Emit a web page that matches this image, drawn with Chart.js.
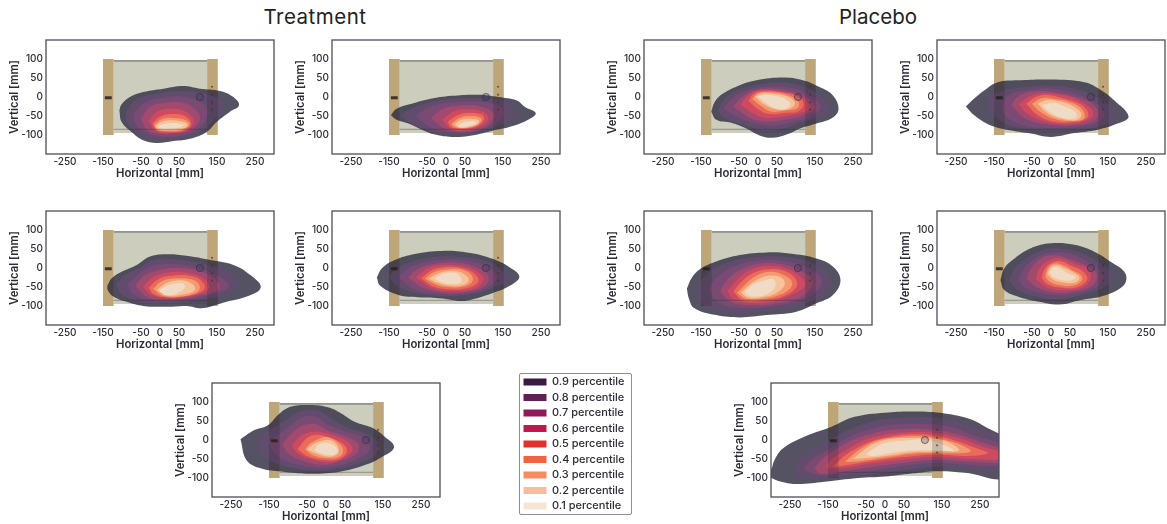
<!DOCTYPE html>
<html>
<head>
<meta charset="utf-8">
<script src="https://cdn.jsdelivr.net/npm/chart.js@4"></script>
<style>
    body { margin: 0; background: #fff; overflow: hidden; width: 1167px; height: 524px; position: relative; font-family: Inter, sans-serif; }
    canvas { position: absolute; }
    .group-title { position: absolute; top: 4px; font-size: 20.5px; color: #222; transform: translateX(-50%); }
    #legendBox { position: absolute; left: 519px; top: 373px; width: 113px; height: 142px; border: 1px solid #8a8e9c; border-radius: 2px; box-sizing: border-box; }
</style>
</head>
<body>
<div class="group-title" style="left:315px;letter-spacing:.5px">Treatment</div>
<div class="group-title" style="left:878px">Placebo</div>
<div id="legendBox"></div>
<script>
const xTicks = [-250, -150, -50, 0, 50, 150, 250];
const yTicks = [100, 50, 0, -50, -100];
const legendLabels = ['0.9 percentile', '0.8 percentile', '0.7 percentile', '0.6 percentile', '0.5 percentile', '0.4 percentile', '0.3 percentile', '0.2 percentile', '0.1 percentile'];
const legendColors = ['#3a1a42', '#611f53', '#8e1a5a', '#c0174f', '#e3312f', '#f0653f', '#f68d62', '#f6bd9c', '#f6e5d3'];
// what the bands look like once blended over the photo, outer to inner
const bandColors = ['rgba(62,58,78,0.88)', 'rgba(100,76,112,0.92)', 'rgba(124,74,116,0.95)', '#a24a6e', '#cf4a60', '#ea6c58', '#f49a70', '#f5c49c', '#f0dcc6'];

// photo backdrop, in mm
const leftPost = [[-150, -100], [-122, -100], [-122, 100], [-150, 100]];
const rightPost = [[124, -100], [152, -100], [152, 100], [124, 100]];
const glass = [[-122, -95], [124, -95], [124, 95], [-122, 95]];
const glassTop = [[-122, 95], [124, 95]];
const glassBottom = [[-122, -85], [124, -85]];
const strap = [[-145, -2], [-127, -2]];
const ring = [[105, 0]];
const screws = [[137, 27], [137, 6], [137, -14], [137, -33]];

// contours in mm, outermost (0.9) first
const treatment1 = [
    [[-107,-35],[-101,-19],[-79,0],[-44,13],[9,22],[61,29],[105,22],[158,16],[193,0],[208,-22],[184,-39],[149,-66],[123,-92],[79,-110],[35,-116],[-9,-121],[-44,-114],[-75,-92],[-101,-66]],
    [[-90,-40],[-60,-5],[0,10],[60,15],[120,8],[165,-15],[150,-50],[110,-88],[60,-105],[0,-112],[-50,-100],[-85,-70]],
    [[-70,-45],[-40,-15],[10,-2],[60,0],[110,-15],[125,-40],[110,-75],[70,-98],[10,-105],[-40,-92],[-65,-70]],
    [[-50,-55],[-25,-25],[20,-15],[60,-15],[95,-35],[105,-60],[85,-85],[45,-95],[0,-97],[-35,-85]],
    [[-30,-65],[-10,-40],[30,-30],[70,-40],[90,-65],[70,-88],[30,-95],[-10,-90]],
    [[-20,-70],[0,-52],[30,-45],[65,-50],[82,-70],[65,-88],[25,-92],[-10,-87]],
    [[-15,-74],[5,-58],[35,-55],[65,-60],[78,-72],[60,-86],[25,-90],[-8,-86]],
    [[-12,-76],[8,-64],[40,-62],[68,-68],[72,-76],[55,-84],[25,-87],[-5,-84]],
    [[-5,-77],[15,-70],[45,-69],[62,-74],[50,-81],[20,-84],[0,-82]]
];
const treatment2 = [
    [[-145,-48],[-130,-31],[-90,-18],[-46,-6],[15,3],[85,6],[138,0],[186,-9],[208,-26],[236,-42],[221,-57],[173,-77],[125,-88],[68,-101],[15,-105],[-29,-99],[-64,-86],[-99,-70],[-130,-60]],
    [[-120,-48],[-70,-22],[0,-6],[80,-3],[150,-10],[180,-40],[150,-70],[90,-90],[20,-98],[-40,-90],[-90,-70]],
    [[-80,-50],[-40,-25],[20,-14],[80,-12],[140,-25],[150,-50],[120,-75],[70,-90],[15,-92],[-40,-80]],
    [[-40,-55],[-10,-32],[40,-22],[90,-25],[125,-42],[120,-65],[90,-84],[45,-92],[0,-85]],
    [[-10,-60],[20,-38],[55,-32],[95,-38],[112,-55],[95,-75],[55,-87],[15,-85]],
    [[5,-65],[30,-48],[60,-42],[95,-47],[100,-60],[85,-75],[50,-84],[15,-80]],
    [[15,-70],[35,-55],[65,-50],[92,-55],[92,-65],[75,-77],[45,-82],[20,-78]],
    [[22,-72],[40,-60],[70,-58],[87,-62],[82,-72],[60,-79],[35,-81]],
    [[30,-75],[50,-66],[72,-64],[80,-68],[62,-76],[42,-79]]
];
const placebo1 = [
    [[-123,-39],[-114,-13],[-92,9],[-48,31],[-4,44],[66,51],[118,44],[162,26],[197,4],[212,-31],[197,-54],[154,-70],[110,-83],[83,-96],[39,-107],[4,-101],[-31,-83],[-70,-68],[-110,-60]],
    [[-105,-35],[-90,-8],[-60,15],[0,32],[70,38],[125,25],[170,0],[190,-30],[165,-50],[110,-68],[60,-85],[10,-88],[-40,-72],[-90,-55]],
    [[-90,-30],[-70,-5],[-35,15],[20,27],[80,25],[130,8],[165,-25],[140,-50],[90,-65],[40,-75],[-10,-68],[-60,-50]],
    [[-65,-25],[-45,-3],[-15,15],[30,22],[85,15],[130,-2],[150,-28],[120,-48],[70,-60],[25,-65],[-20,-55]],
    [[-45,-20],[-30,0],[-5,17],[35,18],[85,8],[125,-8],[135,-30],[100,-45],[60,-52],[20,-55],[-15,-42]],
    [[-25,-10],[-12,8],[15,16],[60,13],[105,2],[120,-20],[105,-38],[70,-42],[30,-45],[0,-32]],
    [[-15,-5],[0,10],[30,13],[75,6],[105,-10],[105,-28],[75,-35],[35,-38],[10,-25]],
    [[-8,0],[10,9],[45,8],[80,0],[97,-15],[85,-30],[50,-33],[20,-22]],
    [[-2,2],[20,6],[50,2],[72,-5],[85,-20],[70,-32],[40,-28],[20,-15]]
];
const placebo2 = [
    [[-224,-25],[-202,-4],[-175,18],[-140,39],[-88,44],[0,46],[88,39],[132,18],[167,-9],[204,-51],[175,-70],[123,-86],[61,-95],[0,-105],[-53,-96],[-105,-88],[-158,-75],[-202,-48]],
    [[-170,-25],[-160,0],[-130,15],[-80,25],[0,30],[70,20],[120,0],[160,-30],[165,-60],[120,-78],[60,-85],[0,-88],[-60,-85],[-130,-65]],
    [[-130,-20],[-110,5],[-60,18],[0,22],[60,10],[110,-12],[140,-40],[125,-65],[70,-78],[0,-82],[-70,-75],[-120,-50]],
    [[-105,-20],[-85,2],[-40,15],[10,12],[65,0],[110,-20],[125,-48],[100,-68],[50,-75],[-10,-72],[-70,-55]],
    [[-85,-20],[-60,0],[-25,10],[20,7],[65,-5],[105,-30],[110,-50],[75,-68],[30,-72],[-25,-62],[-65,-42]],
    [[-65,-18],[-40,0],[-10,5],[30,-3],[70,-15],[95,-35],[95,-55],[60,-66],[10,-65],[-35,-48]],
    [[-50,-18],[-25,-3],[10,-5],[45,-12],[80,-30],[88,-55],[55,-63],[10,-58],[-30,-38]],
    [[-35,-18],[-10,-8],[25,-12],[60,-25],[80,-45],[70,-60],[30,-58],[-10,-42]],
    [[-25,-22],[5,-15],[35,-25],[65,-40],[65,-55],[30,-55],[0,-42]]
];
const treatment3 = [
    [[-138,-45],[-127,-27],[-101,-10],[-61,8],[-26,30],[18,36],[70,32],[132,21],[193,8],[237,-18],[265,-51],[228,-75],[175,-89],[149,-97],[110,-106],[70,-100],[18,-102],[-44,-100],[-88,-89],[-123,-75],[-138,-57]],
    [[-115,-45],[-95,-20],[-55,0],[-15,22],[50,22],[120,10],[180,-10],[205,-40],[170,-70],[100,-85],[30,-92],[-50,-90],[-100,-70]],
    [[-85,-45],[-60,-20],[-20,5],[40,10],[100,0],[160,-25],[180,-50],[130,-72],[60,-85],[-20,-85],[-70,-70]],
    [[-65,-48],[-40,-20],[0,-5],[50,0],[110,-10],[150,-35],[155,-55],[110,-72],[40,-82],[-30,-78]],
    [[-45,-50],[-20,-25],[20,-12],[70,-12],[115,-28],[130,-52],[100,-70],[40,-80],[-20,-72]],
    [[-30,-52],[-5,-30],[35,-20],[85,-22],[115,-40],[115,-58],[80,-72],[25,-78],[-15,-70]],
    [[-18,-55],[5,-35],[45,-27],[90,-32],[105,-50],[95,-65],[55,-75],[10,-74]],
    [[-8,-58],[15,-40],[55,-32],[85,-42],[92,-58],[60,-70],[20,-72]],
    [[-3,-60],[22,-45],[60,-40],[65,-52],[45,-67],[15,-72]]
];
const treatment4 = [
    [[-182,-25],[-169,-1],[-135,21],[-82,37],[-11,45],[59,40],[120,25],[164,4],[193,-23],[164,-49],[120,-67],[68,-83],[41,-87],[-11,-80],[-73,-77],[-125,-71],[-173,-47]],
    [[-150,-25],[-130,-2],[-85,18],[-20,30],[50,28],[115,15],[150,-10],[165,-28],[130,-50],[70,-68],[0,-74],[-70,-68],[-125,-50]],
    [[-125,-25],[-100,-2],[-55,15],[0,22],[60,18],[115,0],[135,-28],[100,-55],[45,-68],[-20,-68],[-85,-55]],
    [[-100,-25],[-75,-3],[-35,10],[15,15],[70,5],[110,-18],[105,-45],[60,-62],[0,-65],[-60,-52]],
    [[-80,-25],[-55,-5],[-20,7],[25,7],[75,-5],[98,-28],[80,-52],[30,-60],[-30,-55]],
    [[-65,-27],[-40,-7],[-5,2],[40,0],[75,-15],[85,-35],[60,-52],[10,-56],[-35,-48]],
    [[-55,-28],[-30,-10],[5,-3],[45,-5],[68,-20],[68,-38],[40,-50],[0,-50],[-30,-42]],
    [[-45,-28],[-20,-14],[15,-7],[40,-12],[60,-30],[45,-45],[5,-46],[-25,-38]],
    [[-30,-28],[-10,-16],[20,-12],[35,-20],[40,-38],[10,-42],[-15,-36]]
];
const placebo3 = [
    [[-187,-54],[-175,-27],[-154,-4],[-110,17],[-48,34],[22,41],[83,38],[154,25],[197,4],[217,-32],[197,-71],[154,-93],[101,-115],[22,-124],[-48,-130],[-110,-124],[-167,-106],[-182,-80]],
    [[-160,-55],[-140,-22],[-110,2],[-60,20],[10,30],[80,28],[145,12],[180,-15],[190,-45],[165,-75],[100,-100],[25,-112],[-50,-118],[-120,-108],[-155,-85]],
    [[-130,-55],[-105,-22],[-60,5],[0,20],[70,18],[130,0],[165,-25],[160,-55],[110,-85],[40,-100],[-40,-105],[-105,-90]],
    [[-100,-60],[-75,-25],[-40,-2],[10,12],[70,8],[120,-12],[145,-40],[115,-75],[55,-92],[-15,-98],[-75,-88]],
    [[-80,-60],[-55,-30],[-20,-5],[25,5],[70,0],[110,-22],[125,-45],[90,-70],[40,-88],[-20,-92],[-65,-82]],
    [[-65,-62],[-42,-35],[-10,-12],[30,-3],[70,-8],[100,-30],[100,-52],[65,-75],[15,-85],[-40,-85]],
    [[-55,-65],[-30,-40],[0,-18],[35,-10],[70,-20],[90,-38],[80,-58],[45,-75],[0,-82],[-35,-80]],
    [[-45,-65],[-20,-42],[10,-25],[40,-20],[65,-28],[70,-45],[50,-65],[15,-76],[-25,-78]],
    [[-35,-62],[-10,-42],[20,-32],[42,-30],[45,-50],[25,-68],[-5,-75],[-28,-72]]
];
const placebo4 = [
    [[-133,-32],[-123,-1],[-96,25],[-53,52],[0,65],[61,61],[114,43],[158,16],[193,-10],[197,-36],[175,-58],[132,-75],[79,-84],[22,-96],[-35,-88],[-88,-75],[-123,-58]],
    [[-110,-32],[-95,0],[-65,25],[-20,48],[35,50],[90,35],[140,5],[165,-20],[145,-48],[100,-65],[25,-82],[-40,-75],[-90,-55]],
    [[-85,-30],[-70,0],[-40,25],[0,40],[45,38],[90,20],[130,-8],[135,-35],[100,-58],[30,-72],[-30,-65],[-70,-50]],
    [[-65,-28],[-50,2],[-20,28],[15,33],[55,22],[95,5],[120,-15],[110,-45],[60,-62],[10,-65],[-35,-52]],
    [[-40,-28],[-30,0],[-5,20],[25,25],[60,12],[95,-2],[105,-25],[85,-50],[40,-58],[0,-55],[-25,-42]],
    [[-25,-25],[-15,0],[5,15],[25,18],[55,5],[85,-10],[95,-30],[70,-50],[30,-52],[-10,-42]],
    [[-15,-22],[-8,0],[10,12],[30,8],[55,-5],[80,-20],[80,-35],[55,-47],[20,-45],[-5,-35]],
    [[-10,-15],[0,3],[15,7],[35,0],[60,-12],[75,-25],[65,-38],[30,-38],[5,-30]],
    [[-5,-10],[8,2],[25,-2],[40,-12],[65,-24],[55,-32],[30,-32],[8,-25]]
];
const treatment5 = [
    [[-225,2],[-209,-53],[-170,-75],[-118,-83],[-39,-89],[40,-83],[102,-66],[145,-46],[179,-19],[154,9],[124,31],[75,48],[40,70],[5,86],[-39,92],[-91,88],[-122,70],[-153,39],[-188,26]],
    [[-180,5],[-175,-30],[-140,-58],[-90,-73],[-35,-80],[30,-75],[90,-60],[135,-35],[140,-12],[110,15],[50,35],[15,55],[-25,78],[-70,75],[-110,50],[-145,28]],
    [[-150,-5],[-135,-35],[-90,-60],[-30,-72],[30,-68],[85,-48],[115,-25],[100,5],[45,25],[5,40],[-30,62],[-65,58],[-100,32]],
    [[-115,-10],[-100,-35],[-60,-55],[-10,-65],[40,-55],[80,-35],[85,-10],[50,10],[5,25],[-30,42],[-60,38],[-90,18]],
    [[-90,-15],[-75,-35],[-35,-52],[15,-58],[55,-42],[70,-22],[50,0],[10,15],[-30,22],[-65,12]],
    [[-75,-25],[-50,-42],[-10,-52],[35,-50],[55,-30],[45,-10],[10,6],[-25,14],[-50,5]],
    [[-55,-25],[-35,-40],[5,-48],[38,-42],[45,-25],[30,-5],[0,8],[-25,0],[-45,-12]],
    [[-50,-25],[-25,-36],[10,-44],[32,-35],[30,-15],[10,0],[-15,-3],[-35,-12]],
    [[-30,-28],[-10,-36],[15,-40],[30,-32],[25,-18],[5,-8],[-20,-12]]
];
const placebo5 = [
    [[-320,-90],[-301,-79],[-291,-53],[-268,-22],[-211,9],[-141,35],[-80,61],[-1,72],[78,75],[157,70],[227,54],[271,31],[305,15],[320,10],[320,-97],[210,-86],[140,-82],[70,-88],[0,-96],[-71,-100],[-159,-110],[-229,-116],[-273,-110],[-305,-97]],
    [[-240,-80],[-225,-50],[-170,-15],[-120,15],[-60,40],[0,55],[80,60],[160,55],[230,35],[320,-5],[320,-78],[210,-75],[140,-70],[60,-78],[-20,-88],[-100,-95],[-180,-102],[-225,-98]],
    [[-215,-75],[-190,-50],[-150,-25],[-100,5],[-40,28],[20,40],[100,42],[170,35],[240,10],[320,-20],[320,-62],[220,-65],[130,-60],[50,-68],[-30,-80],[-110,-88],[-180,-92]],
    [[-185,-75],[-165,-50],[-130,-25],[-85,0],[-30,18],[40,28],[110,28],[190,15],[270,-12],[320,-28],[320,-55],[230,-57],[130,-52],[50,-60],[-40,-72],[-110,-82],[-170,-88]],
    [[-155,-72],[-140,-50],[-105,-28],[-65,-5],[-20,10],[50,20],[120,20],[195,5],[270,-22],[320,-35],[320,-50],[230,-50],[130,-45],[50,-52],[-50,-64],[-120,-75]],
    [[-135,-70],[-110,-45],[-75,-22],[-40,-5],[10,8],[70,15],[130,12],[190,-3],[250,-25],[270,-35],[220,-42],[130,-38],[50,-45],[-50,-58],[-110,-68]],
    [[-105,-58],[-80,-35],[-50,-15],[-15,0],[40,8],[100,10],[150,2],[205,-15],[225,-30],[170,-35],[90,-35],[10,-45],[-60,-55]],
    [[-85,-50],[-60,-30],[-30,-10],[10,2],[70,5],[130,3],[175,-10],[195,-28],[140,-30],[70,-32],[0,-42],[-55,-48]],
    [[-50,-38],[-25,-20],[0,-8],[50,-2],[110,0],[160,-15],[180,-28],[130,-27],[60,-28],[10,-35],[-30,-42]]
];

function toPoints(pairs) {
    return pairs.map(p => ({ x: p[0], y: p[1] }));
}

function polygon(pairs, color, tension) {
    const pts = toPoints(pairs);
    pts.push(pts[0]);
    return { data: pts, showLine: true, fill: 'shape', backgroundColor: color, borderWidth: 0, pointRadius: 0, tension: tension };
}

function stroke(pairs, color, width) {
    return { data: toPoints(pairs), showLine: true, fill: false, borderColor: color, borderWidth: width, pointRadius: 0 };
}

function dots(pairs, radius, fill, edge, edgeWidth) {
    return { data: toPoints(pairs), showLine: false, pointRadius: radius, backgroundColor: fill, borderColor: edge, borderWidth: edgeWidth };
}

// chart.js has no four sided frame
const framePlugin = {
    id: 'frame',
    afterDraw(chart) {
        const a = chart.chartArea;
        const ctx = chart.ctx;
        ctx.save();
        ctx.strokeStyle = '#4d4d5c';
        ctx.lineWidth = 1.3;
        ctx.strokeRect(a.left, a.top, a.right - a.left, a.bottom - a.top);
        ctx.restore();
    }
};

function noPadding(axis) {
    axis.paddingLeft = 0;
    axis.paddingRight = 0;
    axis.paddingTop = 0;
    axis.paddingBottom = 0;
}

function drawPanel(contours, left, top) {
    const canvas = document.createElement('canvas');
    // chart.js leaves 5px above and 4px right of the plot here, so the canvas allows for it
    canvas.width = 279;
    canvas.height = 145;
    canvas.style.left = (left - 46) + 'px';
    canvas.style.top = (top - 5) + 'px';
    document.body.appendChild(canvas);

    // bottom layer first, flipped below because chart.js paints the first dataset last
    const layers = [
        polygon(glass, '#cdcdbd', 0),
        stroke(glassTop, '#6f7068', 1.2),
        polygon(leftPost, '#e3c68d', 0),
        polygon(rightPost, '#e3c68d', 0)
    ];
    contours.forEach((c, i) => layers.push(polygon(c, bandColors[i], 0.4)));
    // the posts and marks still show through the density
    layers.push(polygon(leftPost, 'rgba(30,20,25,0.18)', 0));
    layers.push(polygon(rightPost, 'rgba(30,20,25,0.18)', 0));
    layers.push(stroke(glassBottom, 'rgba(50,46,50,0.4)', 1));
    layers.push(stroke(strap, 'rgba(40,30,30,0.85)', 3));
    layers.push(dots(screws, 1.1, 'rgba(70,50,40,0.7)', 'rgba(70,50,40,0.7)', 0));
    layers.push(dots(ring, 3.6, 'rgba(60,50,80,0.25)', 'rgba(50,40,70,0.6)', 1));

    new Chart(canvas, {
        type: 'scatter',
        data: { datasets: layers.reverse() },
        options: {
            responsive: false,
            animation: false,
            devicePixelRatio: 1,
            plugins: { legend: { display: false }, tooltip: { enabled: false } },
            scales: {
                x: {
                    type: 'linear',
                    min: -300,
                    max: 300,
                    afterBuildTicks: axis => { axis.ticks = xTicks.map(v => ({ value: v })); },
                    afterFit: axis => { axis.height = 26; noPadding(axis); },
                    grid: { display: false, drawTicks: false },
                    border: { display: false },
                    ticks: { padding: 2, color: '#2c2c38', font: { family: 'Inter', size: 10, weight: '500' }, autoSkip: false, maxRotation: 0 },
                    title: { display: true, text: 'Horizontal [mm]', color: '#2c2c38', padding: 0, font: { family: 'Inter', size: 11.3, weight: '600' } }
                },
                y: {
                    type: 'linear',
                    min: -150,
                    max: 150,
                    afterBuildTicks: axis => { axis.ticks = yTicks.map(v => ({ value: v })); },
                    afterFit: axis => { axis.width = 46; noPadding(axis); },
                    grid: { display: false, drawTicks: false },
                    border: { display: false },
                    ticks: { padding: 3, color: '#2c2c38', font: { family: 'Inter', size: 10, weight: '500' }, autoSkip: false },
                    title: { display: true, text: 'Vertical [mm]', color: '#2c2c38', padding: { top: 8, bottom: 0 }, font: { family: 'Inter', size: 11.3, weight: '600' } }
                }
            }
        },
        plugins: [framePlugin]
    });
}

drawPanel(treatment1, 46, 40);
drawPanel(treatment2, 332, 40);
drawPanel(placebo1, 644, 40);
drawPanel(placebo2, 937, 40);
drawPanel(treatment3, 46, 211);
drawPanel(treatment4, 332, 211);
drawPanel(placebo3, 644, 211);
drawPanel(placebo4, 937, 211);
drawPanel(treatment5, 212, 383);
drawPanel(placebo5, 771, 383);

// shared legend, one empty dataset per level
const legendCanvas = document.createElement('canvas');
legendCanvas.width = 113;
legendCanvas.height = 156;
legendCanvas.style.left = '519px';
legendCanvas.style.top = '368px';
document.body.appendChild(legendCanvas);
new Chart(legendCanvas, {
    type: 'scatter',
    data: {
        datasets: legendLabels.map((label, i) => ({ label: label, data: [], backgroundColor: legendColors[i], borderWidth: 0 }))
    },
    options: {
        responsive: false,
        animation: false,
        devicePixelRatio: 1,
        layout: { padding: { top: 4 } },
        scales: { x: { display: false }, y: { display: false } },
        plugins: {
            tooltip: { enabled: false },
            legend: {
                position: 'left',
                align: 'start',
                maxWidth: 113,
                labels: { boxWidth: 23, boxHeight: 7, padding: 4.5, color: '#2c2c38', font: { family: 'Inter', size: 11, weight: '500' } }
            }
        }
    }
});
</script>
</body>
</html>
